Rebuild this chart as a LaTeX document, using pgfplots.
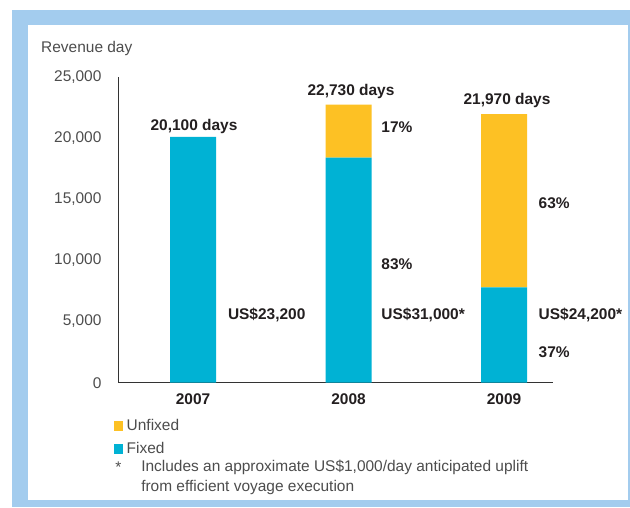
\documentclass[border=0pt]{standalone}
\usepackage{pgfplots}
\pgfplotsset{compat=1.18}
\usepackage{fontspec}
\setmainfont{Liberation Sans}
\definecolor{fixedc}{HTML}{00B2D4}
\definecolor{unfixedc}{HTML}{FDC124}
\definecolor{framec}{HTML}{A3CCEE}
\definecolor{txt}{HTML}{231F20}
\definecolor{ticktxt}{HTML}{4D4D4D}
\newcommand{\lf}{\fontsize{11.6}{13.9}\selectfont}
\pgfplotsset{sqlegend/.style={legend image code/.code={\draw[##1,draw=none] (0pt,-3.6pt) rectangle (7.2pt,3.6pt);}}}

\begin{document}
\begin{tikzpicture}[x=0.75pt,y=-0.75pt]
\fill[white] (0,0) rectangle (630,507);
\fill[framec] (12,10) rectangle (630,507);
\fill[white] (28,25) rectangle (628,500);

% axis origin at pixel (118.7, 382.7)
\begin{axis}[
  at={(89.025pt,-287.025pt)}, anchor=south west,
  scale only axis, width=325.5pt, height=229.3pt,
  ybar stacked, bar width=34.5pt,
  xmin=-0.478, xmax=2.313, ymin=0, ymax=25000,
  axis x line*=bottom, axis y line*=left,
  axis line style={-, draw=black!80, line width=0.6pt},
  major tick length=0pt,
  xtick={0,1,2}, xticklabels={2007,2008,2009},
  xticklabel style={font=\lf\bfseries, text=txt, yshift=-4.9pt},
  ytick={0,5000,10000,15000,20000,25000},
  yticklabel style={font=\lf, text=ticktxt, xshift=-9.4pt},
  scaled y ticks=false,
  /pgf/number format/.cd, 1000 sep={,}, assume math mode=true, /pgfplots/.cd,
  reverse legend,
  legend cell align=left,
  legend style={at={(axis description cs:-0.012,-0.108)}, anchor=north west,
    draw=none, fill=none, font=\lf, text=ticktxt, row sep=2.5pt, inner sep=0pt,
    nodes={inner sep=2.5pt}},
]
\addplot[fill=fixedc, draw=none, sqlegend] coordinates {(0,20100) (1,18400) (2,7800)};
\addlegendentry{Fixed}
\addplot[fill=unfixedc, draw=none, sqlegend] coordinates {(0,0) (1,4330) (2,14170)};
\addlegendentry{Unfixed}
\end{axis}

\node[anchor=base west, font=\lf, text=ticktxt] at (36.5,52.5) {Revenue day};

\begin{scope}[every node/.style={font=\lf\bfseries, text=txt}]
\node[anchor=base] at (194,130.7) {20,100 days};
\node[anchor=base] at (351,95) {22,730 days};
\node[anchor=base] at (507,104) {21,970 days};
\node[anchor=base west] at (223.3,319) {US\$23,200};
\node[anchor=base west] at (376.7,132.3) {17\%};
\node[anchor=base west] at (376.7,269.3) {83\%};
\node[anchor=base west] at (376.7,319) {US\$31,000*};
\node[anchor=base west] at (534,208.3) {63\%};
\node[anchor=base west] at (534,319) {US\$24,200*};
\node[anchor=base west] at (534,357.3) {37\%};
\end{scope}

\begin{scope}[every node/.style={font=\lf, text=ticktxt, inner sep=0pt}]
\node[anchor=base west] at (115,472) {*};
\node[anchor=base west] at (141,471.5) {Includes an approximate US\$1,000/day anticipated uplift};
\node[anchor=base west] at (141,491.5) {from efficient voyage execution};
\end{scope}
\end{tikzpicture}
\end{document}
